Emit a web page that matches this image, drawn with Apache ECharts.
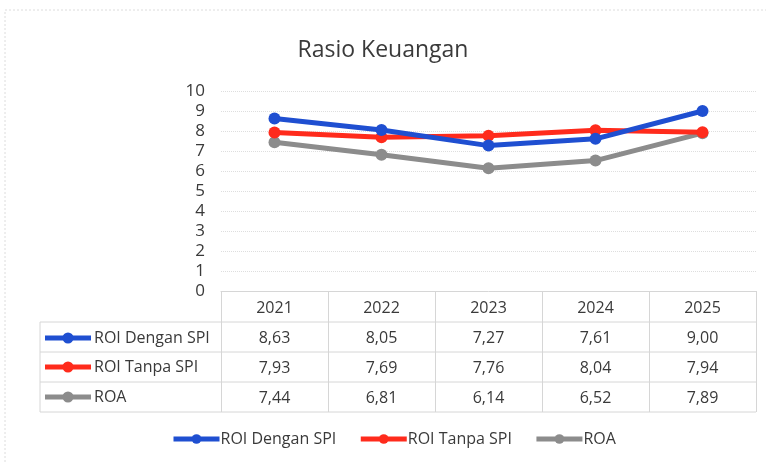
<!DOCTYPE html>
<html>
<head>
<meta charset="utf-8">
<script src="https://cdn.jsdelivr.net/npm/echarts@6/dist/echarts.min.js"></script>
<style>
  html, body { margin: 0; padding: 0; background: #fff; }
  #chart { width: 766px; height: 464px; }
</style>
</head>
<body>
<div id="chart"></div>
<script>
const years = ["2021", "2022", "2023", "2024", "2025"];
const roiDengan = [8.63, 8.05, 7.27, 7.61, 9.0];
const roiTanpa = [7.93, 7.69, 7.76, 8.04, 7.94];
const roa = [7.44, 6.81, 6.14, 6.52, 7.89];
const seriesNames = ["ROI Dengan SPI", "ROI Tanpa SPI", "ROA"];
const colors = ["#1f4fd1", "#ff2b1c", "#8c8c8c"];

const font = "'Open Sans', 'Noto Sans', sans-serif";
const textColor = "#3a3a3a";
const tableLine = "#d6d6d6";

const fmt = (v) => v.toFixed(2).replace(".", ",");

const chart = echarts.init(document.getElementById("chart"), null, { renderer: "canvas" });

// row labels of the data table (legend key + name)
const rowY = [338, 367, 397];
const rowGraphics = [];
seriesNames.forEach((name, i) => {
  rowGraphics.push({
    type: "line",
    shape: { x1: 45, y1: rowY[i], x2: 91, y2: rowY[i] },
    style: { stroke: colors[i], lineWidth: 5 },
  });
  rowGraphics.push({
    type: "circle",
    shape: { cx: 68, cy: rowY[i], r: 5.5 },
    style: { fill: colors[i] },
  });
  rowGraphics.push({
    type: "text",
    x: 94,
    y: rowY[i],
    style: {
      text: name,
      fill: textColor,
      font: "16px " + font,
      verticalAlign: "middle",
    },
  });
});

// table horizontal / vertical rules
[322, 352, 382, 412].forEach((y) => {
  rowGraphics.push({
    type: "line",
    shape: { x1: 40, y1: y, x2: 756, y2: y },
    style: { stroke: tableLine, lineWidth: 1 },
  });
});
rowGraphics.push({
  type: "line",
  shape: { x1: 40, y1: 322, x2: 40, y2: 412 },
  style: { stroke: tableLine, lineWidth: 1 },
});
// outer chart border
rowGraphics.push({
  type: "rect",
  shape: { x: 5, y: 10, width: 770, height: 470 },
  style: { fill: "none", stroke: "#dcdcdc", lineWidth: 1, lineDash: [2, 2] },
});

const option = {
  backgroundColor: "#fff",
  title: {
    text: "Rasio Keuangan",
    left: "center",
    top: 34,
    textStyle: {
      fontFamily: font,
      fontSize: 23,
      fontWeight: "normal",
      color: textColor,
    },
  },
  legend: {
    bottom: 12,
    left: 166,
    itemWidth: 46,
    itemHeight: 12,
    itemGap: 22,
    data: seriesNames,
    lineStyle: { width: 5 },
    textStyle: { fontFamily: font, fontSize: 16, color: textColor, padding: [0, 0, 0, -4] },
  },
  grid: {
    left: 221,
    right: 10,
    top: 91,
    height: 200,
  },
  xAxis: {
    type: "category",
    data: years,
    boundaryGap: true,
    axisLine: { show: true, lineStyle: { color: tableLine } },
    axisTick: { show: true, length: 121, interval: 0, lineStyle: { color: tableLine } },
    axisLabel: {
      interval: 0,
      margin: 2,
      formatter: (val, idx) =>
        "{h|" + val + "}\n{v|" + fmt(roiDengan[idx]) + "}\n{v|" + fmt(roiTanpa[idx]) + "}\n{v|" + fmt(roa[idx]) + "}",
      rich: {
        h: { fontFamily: font, fontSize: 16, color: textColor, lineHeight: 30 },
        v: { fontFamily: font, fontSize: 16, color: textColor, lineHeight: 30 },
      },
    },
  },
  yAxis: {
    type: "value",
    min: 0,
    max: 10,
    interval: 1,
    axisLine: { show: false },
    axisTick: { show: false },
    axisLabel: { fontFamily: font, fontSize: 17, color: textColor, margin: 16 },
    splitLine: { lineStyle: { color: "#dedede", type: "dotted" } },
  },
  graphic: rowGraphics,
  series: [roiDengan, roiTanpa, roa].map((d, i) => ({
    name: seriesNames[i],
    type: "line",
    data: d,
    symbol: "circle",
    symbolSize: 12,
    z: 3 - i,
    color: colors[i],
    lineStyle: { width: 5, color: colors[i] },
    itemStyle: { color: colors[i] },
  })),
};

chart.setOption(option);
</script>
</body>
</html>
